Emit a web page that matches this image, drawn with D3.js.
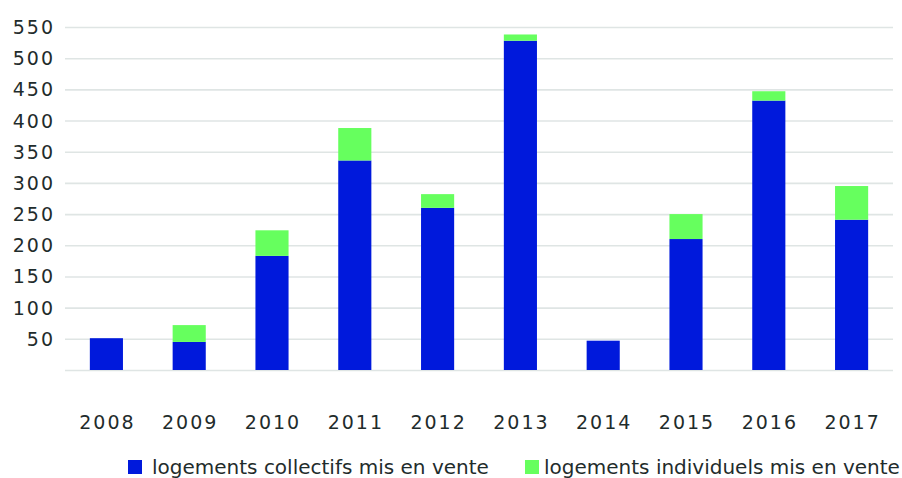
<!DOCTYPE html>
<html>
<head>
<meta charset="utf-8">
<script src="https://cdn.jsdelivr.net/npm/d3@7"></script>
<style>
  html, body { margin: 0; padding: 0; background: #fff; }
  svg { display: block; }
  text { font-family: "DejaVu Sans", sans-serif; fill: #1f2c2c; }
</style>
</head>
<body>
<svg id="chart" width="902" height="478"></svg>
<script>
const years = ["2008","2009","2010","2011","2012","2013","2014","2015","2016","2017"];
const collectifs = [51, 45, 183, 336, 260, 528, 47, 210, 432, 241];
const individuels = [0, 27, 41, 52, 22, 10, 0, 40, 15, 54];
const seriesNames = ["logements collectifs mis en vente", "logements individuels mis en vente"];
const seriesColors = ["#0019dc", "#66ff5e"];
const yTicks = [0, 50, 100, 150, 200, 250, 300, 350, 400, 450, 500, 550];

const svg = d3.select("#chart");
const plotL = 65, plotR = 893, plotT = 27, plotB = 370;

const x = d3.scaleBand().domain(years).range([plotL, plotR]).paddingInner(0.6).paddingOuter(0.3);
const y = d3.scaleLinear().domain([0, 550]).range([plotB, plotT]);

// gridlines + y labels
const yAxis = d3.axisLeft(y).tickValues(yTicks).tickSize(-(plotR - plotL))
  .tickFormat(d => d === 0 ? "" : d);
const gy = svg.append("g").attr("transform", `translate(${plotL},0)`).call(yAxis);
gy.select(".domain").remove();
gy.selectAll(".tick line").attr("stroke", "#dfe5e4").attr("stroke-width", 1.6);
gy.selectAll(".tick text").attr("x", -10).attr("dy", "0.34em")
  .style("font-size", "19px").style("letter-spacing", "2px").attr("fill", "#1f2c2c");

// stacked data
const table = years.map((yr, i) => ({ year: yr, c: collectifs[i], ind: individuels[i] }));
const stack = d3.stack().keys(["c", "ind"])(table);

svg.append("g").selectAll("g").data(stack).join("g")
  .attr("fill", (d, i) => seriesColors[i])
  .selectAll("rect").data(d => d.filter(p => p[1] - p[0] > 0)).join("rect")
  .attr("x", d => x(d.data.year))
  .attr("width", x.bandwidth())
  .attr("y", d => y(d[1]))
  .attr("height", d => y(d[0]) - y(d[1]));

// x labels
const xAxis = d3.axisBottom(x).tickSize(0);
const gx = svg.append("g").attr("transform", `translate(0,${plotB})`).call(xAxis);
gx.select(".domain").remove();
gx.selectAll(".tick text").attr("y", 0).attr("dy", "59px").attr("dx", "1px")
  .style("font-size", "19px").style("letter-spacing", "2px").attr("fill", "#1f2c2c");

// legend
const legendX = [128, 525];
const legendTextDx = [24, 19];
const lg = svg.append("g").selectAll("g").data(seriesNames).join("g")
  .attr("transform", (d, i) => `translate(${legendX[i]},460)`);
lg.append("rect").attr("width", 14).attr("height", 14).attr("fill", (d, i) => seriesColors[i]);
lg.append("text").attr("x", (d, i) => legendTextDx[i]).attr("y", 13.5).text(d => d)
  .style("font-size", "20px").attr("fill", "#1f2c2c");
</script>
</body>
</html>
